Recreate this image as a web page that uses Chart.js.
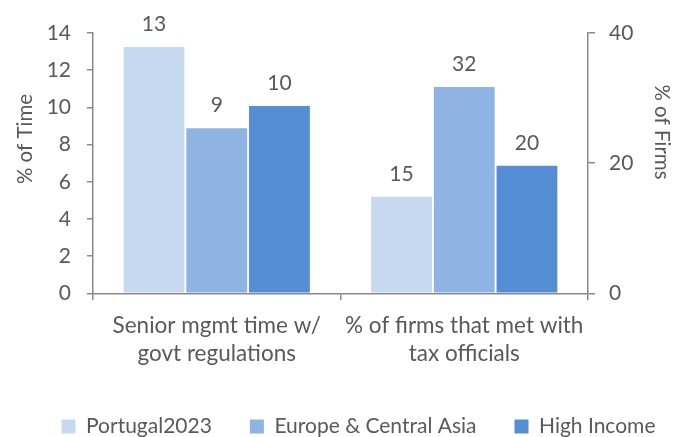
<!DOCTYPE html>
<html>
<head>
<meta charset="utf-8">
<script src="https://cdn.jsdelivr.net/npm/chart.js@4.4.1/dist/chart.umd.min.js"></script>
<style>
  html, body { margin: 0; padding: 0; background: #ffffff; }
  #wrap { width: 681px; height: 437px; }
</style>
</head>
<body>
<div id="wrap"><canvas id="chart" width="681" height="437"></canvas></div>
<script>
// Données
const categories = [
    ["Senior mgmt time w/", "govt regulations"],
    ["% of firms that met with", "tax officials"]
];
const seriesNames = ["Portugal2023", "Europe & Central Asia", "High Income"];
const seriesColors = ["#C6D9F1", "#8EB4E3", "#558ED5"];
// senior mgmt time (% of time, axe gauche)
const timeValues = [13.25, 8.88, 10.07];
// met with tax officials (% of firms, axe droit)
const firmsValues = [14.85, 31.7, 19.6];
const leftTicks = [0, 2, 4, 6, 8, 10, 12, 14];
const rightTicks = [0, 20, 40];
const leftTitle = '% of Time';
const rightTitle = '% of Firms';

const textColor = '#595959';
const axisColor = '#898989';
const fontFamily = 'Lato, "Open Sans", sans-serif';

// Une série par axe, les valeurs nulles sont sautées
const datasets = [];
seriesNames.forEach((name, i) => {
    datasets.push({
        label: name,
        data: [timeValues[i], null],
        backgroundColor: seriesColors[i],
        yAxisID: 'yLeft',
        skipNull: true,
        barPercentage: 0.97,
        categoryPercentage: 0.76
    });
    datasets.push({
        label: name,
        data: [null, firmsValues[i]],
        backgroundColor: seriesColors[i],
        yAxisID: 'yRight',
        skipNull: true,
        barPercentage: 0.97,
        categoryPercentage: 0.76
    });
});

// Étiquettes de valeurs au-dessus des barres + titres des axes
const valueLabels = {
    id: 'valueLabels',
    afterDatasetsDraw(chart) {
        const ctx = chart.ctx;
        ctx.save();
        ctx.font = '21px ' + fontFamily;
        ctx.fillStyle = textColor;
        ctx.textAlign = 'center';
        ctx.textBaseline = 'alphabetic';
        chart.data.datasets.forEach((ds, i) => {
            const meta = chart.getDatasetMeta(i);
            meta.data.forEach((bar, j) => {
                const v = ds.data[j];
                if (v === null) return;
                ctx.fillText(String(Math.round(v)), bar.x, bar.y - 16);
            });
        });

        // titres (placés comme dans Excel, pas centrés sur l'axe)
        ctx.font = '20.5px ' + fontFamily;
        ctx.textBaseline = 'middle';
        ctx.save();
        ctx.translate(25, 139);
        ctx.rotate(-Math.PI / 2);
        ctx.fillText(leftTitle, 0, 0);
        ctx.restore();
        ctx.save();
        ctx.translate(662, 132);
        ctx.rotate(Math.PI / 2);
        ctx.fillText(rightTitle, 0, 0);
        ctx.restore();
        ctx.restore();
    }
};

new Chart(document.getElementById('chart'), {
    type: 'bar',
    data: { labels: categories, datasets: datasets },
    options: {
        responsive: false,
        animation: false,
        // décalage pour centrer la légende comme dans l'original
        layout: { padding: { left: 18, right: -18, top: 33, bottom: -10 } },
        plugins: {
            tooltip: { enabled: false },
            legend: {
                position: 'bottom',
                labels: {
                    color: textColor,
                    font: { family: fontFamily, size: 21 },
                    boxWidth: 14,
                    boxHeight: 14,
                    padding: 38,
                    filter: (item) => item.datasetIndex % 2 === 0
                }
            }
        },
        scales: {
            x: {
                afterFit: (axis) => { axis.height -= 1; },
                grid: { display: true, drawOnChartArea: false, color: axisColor, tickLength: 7, lineWidth: 1.5 },
                border: { display: true, color: axisColor, width: 1.5 },
                ticks: { color: textColor, font: { family: fontFamily, size: 22.5, lineHeight: 1.26 },
                         padding: 11, maxRotation: 0, minRotation: 0, autoSkip: false }
            },
            yLeft: {
                position: 'left',
                min: 0,
                max: 14,
                afterBuildTicks: (axis) => { axis.ticks = leftTicks.map(v => ({ value: v })); },
                afterFit: (axis) => { axis.width = 75; },
                grid: { display: true, drawOnChartArea: false, color: axisColor, tickLength: 6, lineWidth: 1.5 },
                border: { display: true, color: axisColor, width: 1.5 },
                ticks: { color: textColor, font: { family: fontFamily, size: 21 }, padding: 16, autoSkip: false }
            },
            yRight: {
                position: 'right',
                min: 0,
                max: 40,
                afterBuildTicks: (axis) => { axis.ticks = rightTicks.map(v => ({ value: v })); },
                afterFit: (axis) => { axis.width = 111; },
                grid: { display: true, drawOnChartArea: false, color: axisColor, tickLength: 7, lineWidth: 1.5 },
                border: { display: true, color: axisColor, width: 1.5 },
                ticks: { color: textColor, font: { family: fontFamily, size: 21 }, padding: 14, autoSkip: false }
            }
        }
    },
    plugins: [valueLabels]
});
</script>
</body>
</html>
